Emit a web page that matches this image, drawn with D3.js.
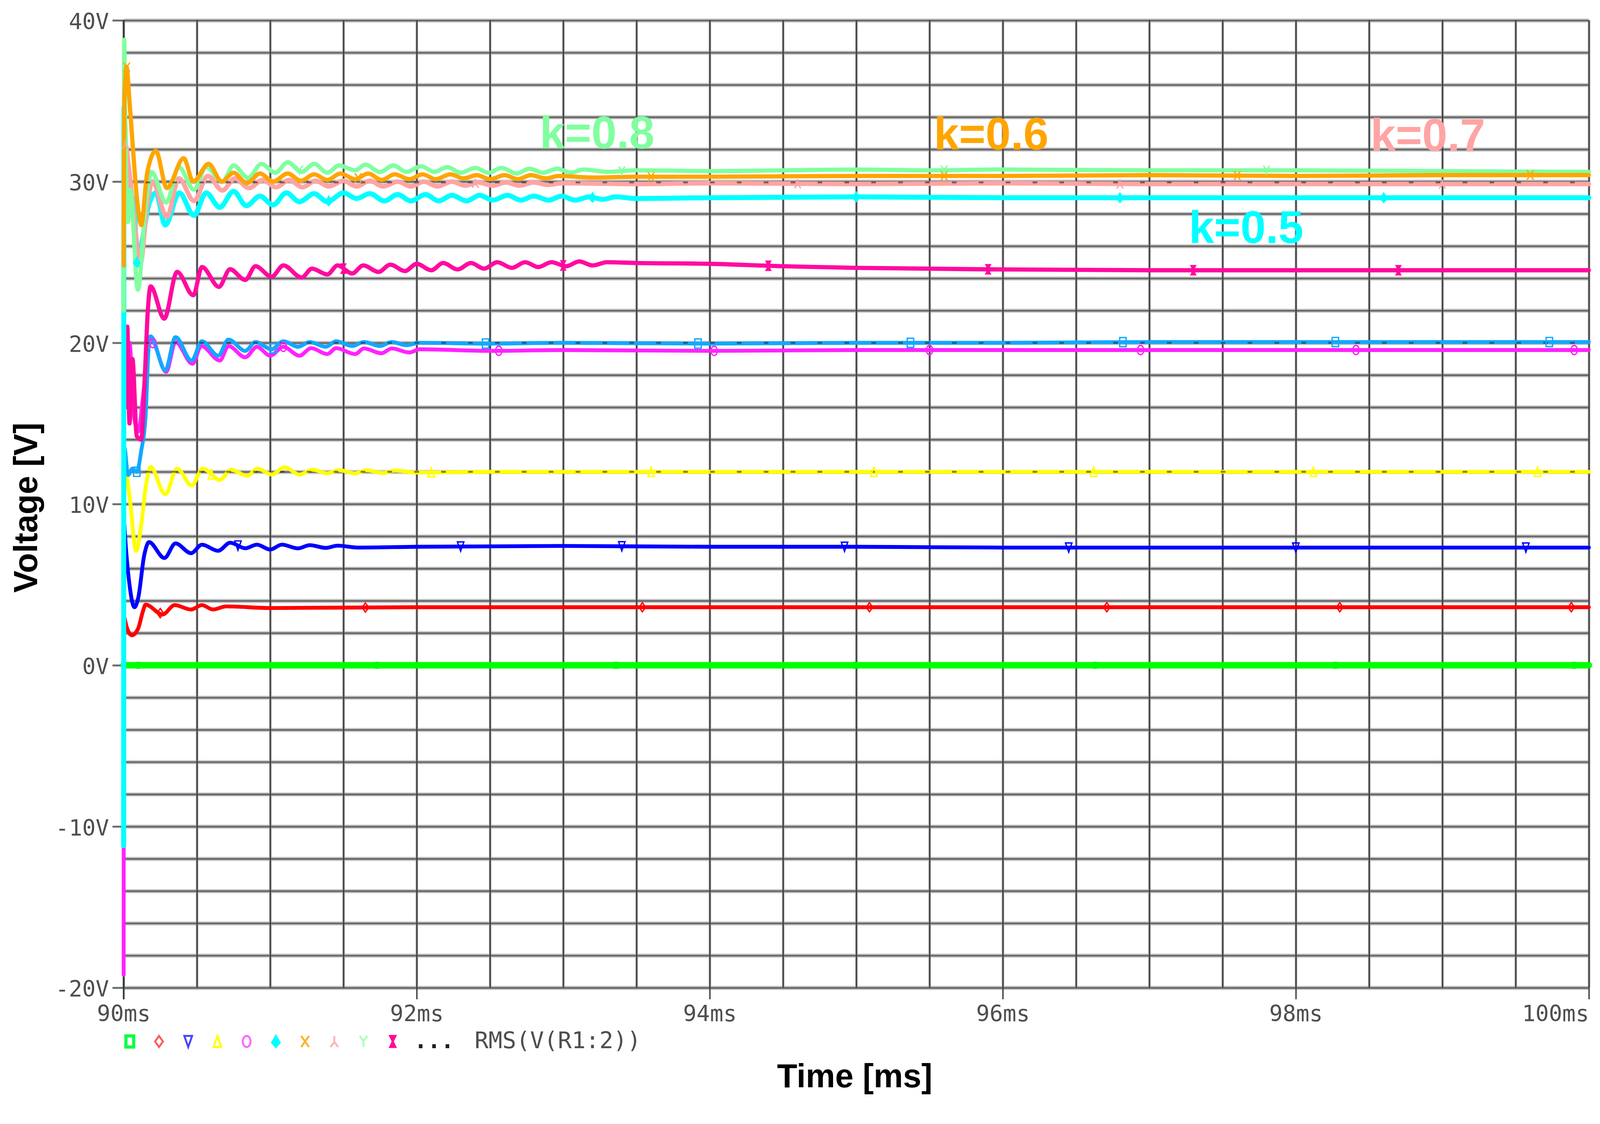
<!DOCTYPE html>
<html>
<head>
<meta charset="utf-8">
<script src="https://cdn.jsdelivr.net/npm/d3@7"></script>
<style>
  html, body { margin: 0; padding: 0; background: #fff; overflow: hidden; }
  #chart svg { display: block; width: 100vw; height: 100vh; }
</style>
</head>
<body>
<div id="chart"></div>
<script>
// ---- data (time in ms, voltage in V) ----
var vGreen = [[90.0, 0], [100.0, 0]];

var vRed = [[90.0, 3.2], [90.02, 2.4], [90.056, 1.86], [90.1, 2.3], [90.13, 3.3], [90.15, 3.76],
  [90.266, 3.15], [90.348, 3.73], [90.46, 3.46], [90.534, 3.73], [90.61, 3.46], [90.7, 3.65],
  [91.0, 3.55], [92, 3.6], [93, 3.6], [94, 3.6], [95, 3.6], [96, 3.6], [97, 3.6], [98, 3.6], [99, 3.6], [100, 3.6]];

var vBlue = [[90.0, 9.5], [90.01, 8.0], [90.04, 5.0], [90.074, 3.6], [90.1, 4.2], [90.14, 6.8],
  [90.173, 7.64], [90.278, 6.65], [90.354, 7.56], [90.46, 6.95], [90.534, 7.48], [90.645, 7.1],
  [90.727, 7.6], [90.83, 7.26], [90.91, 7.48], [91.0, 7.18], [91.08, 7.48], [91.19, 7.25],
  [91.27, 7.45], [91.38, 7.28], [91.46, 7.42], [91.6, 7.3], [92.0, 7.35], [93, 7.4], [94, 7.35],
  [95, 7.35], [96, 7.3], [97, 7.3], [98, 7.3], [99, 7.3], [100, 7.3]];

var vYellow = [[90.0, 10.3], [90.015, 11.9], [90.04, 10.5], [90.085, 7.1], [90.12, 8.7], [90.15, 11.0],
  [90.184, 12.3], [90.284, 10.6], [90.365, 12.2], [90.464, 11.15], [90.54, 12.2], [90.657, 11.5],
  [90.733, 12.13], [90.844, 11.75], [90.914, 12.2], [91.01, 11.83], [91.1, 12.28], [91.2, 11.83],
  [91.29, 12.13], [91.39, 11.9], [91.47, 12.1], [91.58, 11.9], [91.66, 12.1], [91.77, 11.92],
  [91.85, 12.08], [92.0, 11.95], [92.5, 12.0], [93, 12.0], [94, 12.0], [95, 12.0], [96, 12.0],
  [97, 12.0], [98, 12.0], [99, 12.0], [100, 12.0]];

var vMagenta = [[90.0, -19.2], [90.003, 20.8], [90.02, 16.0], [90.04, 20.0], [90.07, 15.5], [90.1, 14.5],
  [90.13, 16.5], [90.16, 19.0], [90.184, 20.3], [90.29, 18.2], [90.354, 20.05], [90.47, 18.7],
  [90.53, 19.8], [90.657, 18.9], [90.715, 19.8], [90.83, 19.1], [90.91, 19.75], [91.0, 19.2],
  [91.09, 19.75], [91.2, 19.2], [91.28, 19.67], [91.39, 19.3], [91.45, 19.67], [91.58, 19.3],
  [91.64, 19.65], [91.76, 19.35], [91.83, 19.65], [91.95, 19.4], [92.02, 19.6], [92.5, 19.5],
  [93, 19.55], [94, 19.5], [95, 19.55], [96, 19.55], [97, 19.55], [98, 19.55], [99, 19.55], [100, 19.55]];

var vLtBlue = [[90.0, 6.3], [90.005, 13.5], [90.03, 11.8], [90.06, 12.2], [90.09, 12.0], [90.12, 13.3],
  [90.15, 15.5], [90.17, 19.6], [90.184, 20.4], [90.284, 18.3], [90.354, 20.35], [90.464, 18.9],
  [90.534, 20.1], [90.645, 19.2], [90.715, 20.2], [90.83, 19.5], [90.9, 20.05], [91.01, 19.6],
  [91.09, 20.1], [91.19, 19.75], [91.27, 20.05], [91.38, 19.75], [91.45, 20.1], [91.56, 19.8],
  [91.64, 20.05], [91.75, 19.8], [91.83, 20.05], [91.93, 19.85], [92.02, 20.0], [92.5, 19.95],
  [93, 20.0], [94, 19.95], [95, 20.0], [96, 20.0], [97, 20.05], [98, 20.05], [99, 20.05], [100, 20.05]];

var vDeepPink = [[90.0, 21.0], [90.01, 16.0], [90.025, 21.0], [90.04, 15.0], [90.06, 19.0], [90.09, 14.2],
  [90.12, 14.0], [90.145, 18.0], [90.165, 22.0], [90.184, 23.5], [90.277, 21.5], [90.365, 24.4],
  [90.475, 22.95], [90.535, 24.7], [90.65, 23.47], [90.726, 24.56], [90.83, 23.9], [90.9, 24.75],
  [91.01, 24.1], [91.09, 24.8], [91.215, 24.05], [91.285, 24.6], [91.39, 24.24], [91.46, 24.8],
  [91.56, 24.3], [91.635, 24.8], [91.74, 24.4], [91.82, 24.85], [91.92, 24.45], [92.0, 24.9],
  [92.1, 24.5], [92.18, 24.95], [92.28, 24.55], [92.37, 24.95], [92.46, 24.6], [92.55, 25.0],
  [92.65, 24.65], [92.74, 25.0], [92.83, 24.7], [92.92, 25.0], [93.02, 24.75], [93.11, 25.05],
  [93.2, 24.8], [93.3, 25.0], [93.5, 24.95], [94, 24.9], [94.5, 24.75], [95, 24.65], [96, 24.55],
  [97, 24.5], [98, 24.5], [99, 24.5], [100, 24.5]];

var vCyan = [[90.0, -11.2], [90.002, 34.6], [90.02, 30.3], [90.05, 28.0], [90.07, 29.0], [90.091, 24.8],
  [90.13, 26.5], [90.17, 28.5], [90.22, 29.3], [90.284, 27.3], [90.38, 29.3], [90.48, 27.9],
  [90.563, 29.3], [90.656, 28.4], [90.75, 29.4], [90.837, 28.5], [90.93, 29.1], [91.02, 28.55],
  [91.11, 29.3], [91.2, 28.75], [91.3, 29.25], [91.39, 28.75], [91.5, 29.3], [91.59, 28.95],
  [91.68, 29.25], [91.78, 28.8], [91.87, 29.2], [91.96, 28.8], [92.06, 29.2], [92.15, 28.8],
  [92.24, 29.15], [92.34, 28.8], [92.43, 29.15], [92.52, 28.85], [92.62, 29.15], [92.71, 28.85],
  [92.8, 29.1], [92.9, 28.85], [92.99, 29.1], [93.08, 28.85], [93.18, 29.05], [93.27, 28.9],
  [93.36, 29.05], [93.5, 28.95], [94, 29.0], [95, 29.05], [96, 29.0], [97, 29.0], [98, 29.0],
  [99, 29.0], [100, 29.0]];

var vPink = [[90.0, 27.5], [90.01, 32.3], [90.04, 30.5], [90.08, 27.0], [90.114, 24.9], [90.16, 28.5],
  [90.196, 30.0], [90.295, 27.8], [90.377, 30.2], [90.48, 28.8], [90.575, 30.35], [90.674, 29.45],
  [90.76, 30.2], [90.855, 29.6], [90.95, 30.1], [91.04, 29.65], [91.13, 30.1], [91.22, 29.65],
  [91.31, 30.05], [91.4, 29.7], [91.5, 30.05], [91.59, 29.7], [91.68, 30.05], [91.77, 29.7],
  [91.87, 30.0], [91.96, 29.7], [92.05, 30.0], [92.14, 29.7], [92.24, 30.0], [92.33, 29.75],
  [92.42, 29.95], [92.52, 29.75], [92.61, 29.95], [92.7, 29.75], [92.8, 29.95], [92.89, 29.8],
  [93.0, 29.9], [93.5, 29.85], [94, 29.9], [95, 29.85], [96, 29.9], [97, 29.85], [98, 29.85],
  [99, 29.85], [100, 29.85]];

var vOrange = [[90.0, 24.8], [90.005, 35.0], [90.02, 37.1], [90.04, 35.0], [90.06, 32.5], [90.095, 28.6],
  [90.12, 27.3], [90.16, 30.5], [90.22, 31.9], [90.295, 29.6], [90.41, 31.45], [90.475, 30.0],
  [90.58, 31.1], [90.67, 30.0], [90.75, 30.55], [90.84, 29.9], [90.93, 30.5], [91.02, 30.0],
  [91.12, 30.5], [91.21, 30.05], [91.3, 30.45], [91.39, 30.1], [91.48, 30.5], [91.58, 30.15],
  [91.67, 30.5], [91.76, 30.1], [91.85, 30.45], [91.95, 30.15], [92.04, 30.45], [92.13, 30.15],
  [92.23, 30.45], [92.32, 30.2], [92.41, 30.4], [92.5, 30.15], [92.6, 30.4], [92.69, 30.15],
  [92.78, 30.4], [92.88, 30.2], [92.97, 30.35], [93.2, 30.25], [93.5, 30.3], [94, 30.3],
  [95, 30.35], [96, 30.35], [97, 30.4], [98, 30.35], [99, 30.4], [100, 30.4]];

var vLtGreen = [[90.0, 22.0], [90.004, 38.8], [90.012, 33.0], [90.03, 27.5], [90.045, 29.5], [90.097, 23.3],
  [90.15, 28.5], [90.19, 30.6], [90.29, 28.7], [90.377, 30.9], [90.48, 29.5], [90.563, 30.9],
  [90.674, 30.0], [90.75, 31.0], [90.85, 30.23], [90.94, 31.1], [91.035, 30.55], [91.12, 31.2],
  [91.215, 30.6], [91.3, 31.1], [91.39, 30.55], [91.47, 31.0], [91.58, 30.7], [91.65, 31.05],
  [91.75, 30.6], [91.84, 31.0], [91.93, 30.6], [92.03, 30.95], [92.12, 30.6], [92.21, 30.9],
  [92.3, 30.55], [92.4, 30.85], [92.49, 30.55], [92.58, 30.85], [92.68, 30.5], [92.77, 30.8],
  [92.86, 30.55], [92.96, 30.8], [93.05, 30.55], [93.14, 30.75], [93.3, 30.6], [93.5, 30.7],
  [94, 30.65], [94.5, 30.7], [95, 30.75], [95.5, 30.7], [96, 30.75], [97, 30.7], [98, 30.7],
  [99, 30.65], [100, 30.6]];

// marker times on each trace (ms)
var mGreen = [90.1, 91.73, 93.36, 94.99, 96.63, 98.27, 99.9];
var mRed = [90.25, 91.65, 93.54, 95.09, 96.71, 98.3, 99.88];
var mBlue = [90.78, 92.3, 93.4, 94.92, 96.45, 98.0, 99.57];
var mYellow = [90.6, 92.1, 93.6, 95.12, 96.62, 98.12, 99.65];
var mMagenta = [90.2, 91.09, 92.56, 94.03, 95.5, 96.94, 98.41, 99.9];
var mLtBlue = [90.09, 91.02, 92.47, 93.92, 95.37, 96.82, 98.27, 99.73];
var mDeepPink = [91.5, 93.0, 94.4, 95.9, 97.3, 98.7];
var mCyan = [90.09, 91.4, 93.2, 95.0, 96.8, 98.6];
var mPink = [90.01, 92.4, 94.6, 96.8, 99.0];
var mOrange = [90.02, 91.6, 93.6, 95.6, 97.6, 99.6];
var mLtGreen = [91.2, 93.4, 95.6, 97.8];

// RMS(V(R1:2)) dotted levels that show through
var rmsLevels = [12.0, 20.0, 29.95];

// annotations
var kLabels = ["k=0.8", "k=0.6", "k=0.7", "k=0.5"];
var kTimes = [92.84, 95.53, 98.51, 97.27];
var kVolts = [32.05, 31.98, 31.9, 26.2];

// ticks
var xTickValues = [90, 92, 94, 96, 98, 100];
var xTickLabels = ["90ms", "92ms", "94ms", "96ms", "98ms", "100ms"];
var yTickValues = [-20, -10, 0, 10, 20, 30, 40];
var yTickLabels = ["-20V", "-10V", "0V", "10V", "20V", "30V", "40V"];
var legendText = "RMS(V(R1:2))";

// ---- layout ----
var svgWidth = 4167;
var svgHeight = 2877;
var margin = { top: 53, right: 29, bottom: 305, left: 322 };
var width = svgWidth - margin.left - margin.right;
var height = svgHeight - margin.top - margin.bottom;

// scale the drawing to whatever viewport we get
var svg = d3.select("#chart")
  .append("svg")
  .attr("viewBox", `0 0 ${svgWidth} ${svgHeight}`)
  .attr("preserveAspectRatio", "xMidYMin meet");

svg.append("rect")
  .attr("width", svgWidth)
  .attr("height", svgHeight)
  .attr("fill", "#fff");

var chart = svg.append("g")
  .attr("transform", `translate(${margin.left}, ${margin.top})`);

var x = d3.scaleLinear().domain([90, 100]).range([0, width]);
var y = d3.scaleLinear().domain([-20, 40]).range([height, 0]);

var monoFont = "'DejaVu Sans Mono', monospace";
var boldFont = "'Liberation Sans', Arial, sans-serif";

// ---- grid ----
var yGrid = d3.range(-20, 40.01, 2);
var xGrid = d3.range(90, 100.01, 0.5);

function gridLayer(axis, stroke, sw) {
  var g = chart.append("g").call(axis);
  g.select(".domain").remove();
  g.selectAll("text").remove();
  g.selectAll("line").attr("stroke", stroke).attr("stroke-width", sw);
  return g;
}

gridLayer(d3.axisLeft(y).tickValues(yGrid).tickSize(-width).tickFormat(""), "#cdcdcd", 11);
gridLayer(d3.axisBottom(x).tickValues(xGrid).tickSize(height).tickFormat(""), "#bcbcbc", 7);
gridLayer(d3.axisLeft(y).tickValues(yGrid).tickSize(-width).tickFormat(""), "#6c6c6c", 5);
gridLayer(d3.axisBottom(x).tickValues(xGrid).tickSize(height).tickFormat(""), "#3d3d3d", 3.5);

// ---- axes with labels ----
var yAxis = chart.append("g")
  .call(d3.axisLeft(y).tickValues(yTickValues).tickSize(29).tickPadding(9)
    .tickFormat((d, i) => yTickLabels[i]));
yAxis.select(".domain").remove();
yAxis.selectAll("line").attr("stroke", "#6c6c6c").attr("stroke-width", 5);
yAxis.selectAll("text")
  .attr("font-family", monoFont)
  .attr("font-size", 58)
  .attr("fill", "#4e4e4e")
  .attr("dy", "0.40em");

var xAxis = chart.append("g")
  .attr("transform", `translate(0, ${height})`)
  .call(d3.axisBottom(x).tickValues(xTickValues).tickSize(30).tickPadding(16)
    .tickFormat((d, i) => xTickLabels[i]));
xAxis.select(".domain").remove();
xAxis.selectAll("line").attr("stroke", "#3d3d3d").attr("stroke-width", 3.5);
xAxis.selectAll("text")
  .attr("font-family", monoFont)
  .attr("font-size", 58)
  .attr("fill", "#4e4e4e")
  .attr("text-anchor", (d, i) => i === xTickValues.length - 1 ? "end" : "middle");

// left axis line
chart.append("line")
  .attr("x1", x(90)).attr("x2", x(90))
  .attr("y1", y(40)).attr("y2", y(-20) + 30)
  .attr("stroke", "#333").attr("stroke-width", 4);

// ---- traces ----
var traces = [
  { data: vGreen, color: "#00ff00", w: 17, marks: mGreen, shape: "blob" },
  { data: vRed, color: "#ff0000", w: 10, marks: mRed, shape: "diamond" },
  { data: vBlue, color: "#0000ff", w: 10, marks: mBlue, shape: "tridown" },
  { data: vYellow, color: "#ffff00", w: 10, marks: mYellow, shape: "triup" },
  { data: vMagenta, color: "#ff22ff", w: 10, marks: mMagenta, shape: "circle" },
  { data: vLtBlue, color: "#12a8ff", w: 10, marks: mLtBlue, shape: "square" },
  { data: vDeepPink, color: "#ff0aa0", w: 11, marks: mDeepPink, shape: "hourglass" },
  { data: vCyan, color: "#00ffff", w: 13, marks: mCyan, shape: "diamondFill" },
  { data: vPink, color: "#ffa4a4", w: 12, marks: mPink, shape: "lambda" },
  { data: vLtGreen, color: "#80ffa0", w: 11, marks: mLtGreen, shape: "wye" },
  { data: vOrange, color: "#ffa500", w: 11, marks: mOrange, shape: "cross" }
];

var line = d3.line()
  .curve(d3.curveMonotoneX)
  .x(d => x(d[0]))
  .y(d => y(d[1]));

var traceGroup = chart.append("g");
traces.forEach(function(t) {
  traceGroup.append("path")
    .datum(t.data)
    .attr("d", line)
    .attr("fill", "none")
    .attr("stroke", t.color)
    .attr("stroke-width", t.w)
    .attr("stroke-linejoin", "round")
    .attr("stroke-linecap", "round");
});

// RMS dotted lines
chart.selectAll(".rms")
  .data(rmsLevels)
  .enter()
  .append("line")
  .attr("class", "rms")
  .attr("x1", x(90.15)).attr("x2", x(100))
  .attr("y1", d => y(d)).attr("y2", d => y(d))
  .attr("stroke", "#2a2a2a")
  .attr("stroke-width", 5)
  .attr("stroke-dasharray", "12 58")
  .attr("opacity", 0.6);

// ---- symbols ----
function shapePath(name, s) {
  var w = 7 * s, h = 10 * s;
  switch (name) {
    case "square": return `M${-w},${-h}H${w}V${h}H${-w}Z`;
    case "diamond": return `M0,${-h}L${w},0L0,${h}L${-w},0Z`;
    case "tridown": return `M${-w},${-h}H${w}L0,${h}Z`;
    case "triup": return `M0,${-h}L${w},${h}H${-w}Z`;
    case "circle": return `M0,${-h}A${w},${h} 0 1,1 0,${h}A${w},${h} 0 1,1 0,${-h}Z`;
    case "diamondFill": return `M0,${-h}L${w},${0.2 * h}L0,${h}L${-w},${0.2 * h}Z`;
    case "cross": return `M${-w},${-h}L${w},${h}M${w},${-h}L${-w},${h}`;
    case "lambda": return `M0,${-h}V${0.1 * h}L${-w},${h}M0,${0.1 * h}L${w},${h}`;
    case "wye": return `M${-w},${-h}L0,${-0.1 * h}L${w},${-h}M0,${-0.1 * h}V${h}`;
    case "hourglass": return `M${-0.7 * w},${-h}H${0.7 * w}L${-0.7 * w},${h}H${0.7 * w}Z`;
    case "blob": return `M${-w * 2.6},0A${w * 2.6},${h * 1.3} 0 1,1 ${w * 2.6},0A${w * 2.6},${h * 1.3} 0 1,1 ${-w * 2.6},0Z`;
  }
  return "";
}
var filledShapes = ["diamondFill", "hourglass", "blob"];

function valueAt(data, t) {
  var i = d3.bisector(d => d[0]).left(data, t);
  if (i <= 0) return data[0][1];
  if (i >= data.length) return data[data.length - 1][1];
  var a = data[i - 1], b = data[i];
  return a[1] + (b[1] - a[1]) * (t - a[0]) / (b[0] - a[0]);
}

var markGroup = chart.append("g");
traces.forEach(function(t) {
  var filled = filledShapes.indexOf(t.shape) >= 0;
  markGroup.selectAll(null)
    .data(t.marks)
    .enter()
    .append("path")
    .attr("transform", d => `translate(${x(d)}, ${y(valueAt(t.data, d))})`)
    .attr("d", shapePath(t.shape, t.shape === "blob" ? 0.6 : 1.2))
    .attr("fill", filled ? t.color : "none")
    .attr("stroke", t.color)
    .attr("stroke-width", 3.5);
});

// ---- k labels ----
var kColors = ["#80ffa0", "#ffa500", "#ffa4a4", "#00ffff"];
chart.selectAll(".klabel")
  .data(kLabels)
  .enter()
  .append("text")
  .attr("class", "klabel")
  .attr("x", (d, i) => x(kTimes[i]))
  .attr("y", (d, i) => y(kVolts[i]))
  .attr("font-family", boldFont)
  .attr("font-weight", "bold")
  .attr("font-size", 118)
  .attr("fill", (d, i) => kColors[i])
  .text(d => d);

// ---- axis titles ----
svg.append("text")
  .attr("transform", "translate(97, 1322) rotate(-90)")
  .attr("text-anchor", "middle")
  .attr("font-family", boldFont)
  .attr("font-weight", "bold")
  .attr("font-size", 86)
  .attr("fill", "#000")
  .text("Voltage [V]");

svg.append("text")
  .attr("x", 2226)
  .attr("y", 2831)
  .attr("text-anchor", "middle")
  .attr("font-family", boldFont)
  .attr("font-weight", "bold")
  .attr("font-size", 86)
  .attr("fill", "#000")
  .text("Time [ms]");

// ---- legend ----
var legendShapes = ["square", "diamond", "tridown", "triup", "circle", "diamondFill", "cross", "lambda", "wye", "hourglass"];
var legendColors = ["#00ff40", "#ff5a5a", "#4646ff", "#ffff00", "#ff66ff", "#00ffff", "#ffb030", "#ffb4b4", "#a8ffb8", "#ff0a9a"];

var legend = svg.append("g").attr("transform", "translate(338, 2712)");
legend.selectAll("path")
  .data(legendShapes)
  .enter()
  .append("path")
  .attr("transform", (d, i) => `translate(${i * 76.1}, 0)`)
  .attr("d", d => shapePath(d, 1.45))
  .attr("fill", (d, i) => filledShapes.indexOf(d) >= 0 ? legendColors[i] : "none")
  .attr("stroke", (d, i) => legendColors[i])
  .attr("stroke-width", d => d === "square" ? 8 : 5);

svg.append("text")
  .attr("x", 1078)
  .attr("y", 2730)
  .attr("font-family", monoFont)
  .attr("font-size", 58)
  .attr("fill", "#1e1e1e")
  .attr("font-weight", "bold")
  .text("...");

svg.append("text")
  .attr("x", 1236)
  .attr("y", 2730)
  .attr("font-family", monoFont)
  .attr("font-size", 60)
  .attr("fill", "#4e4e4e")
  .text(legendText);
</script>
</body>
</html>
